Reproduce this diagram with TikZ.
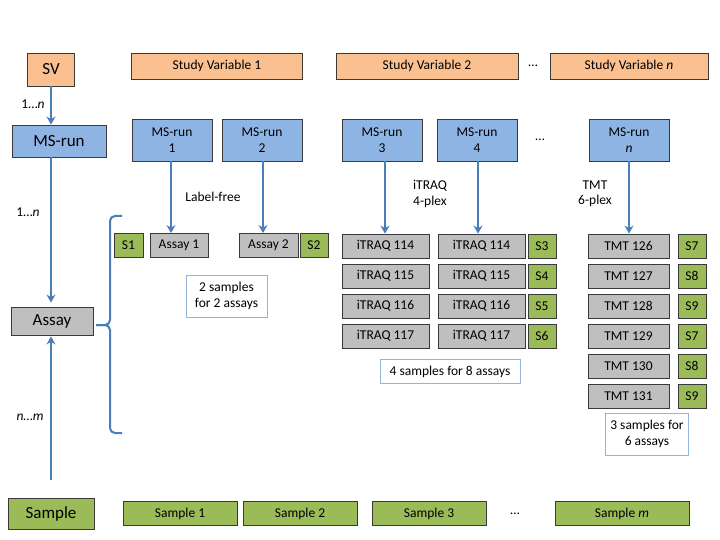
\documentclass[tikz,border=0pt]{standalone}
\usepackage{fontspec}
\setmainfont{Carlito}
\usetikzlibrary{arrows.meta}

\definecolor{svfill}{HTML}{FAC090}
\definecolor{runfill}{HTML}{8EB4E3}
\definecolor{assayfill}{HTML}{BFBFBF}
\definecolor{samplefill}{HTML}{9BBB59}
\definecolor{boxline}{HTML}{3A3A3A}
\definecolor{linkblue}{HTML}{4A7EBB}
\definecolor{noteline}{HTML}{95B3D7}

\begin{document}
\begin{tikzpicture}[x=1pt,y=-1pt,
  every node/.style={font=\fontsize{13.5}{15.5}\selectfont, inner sep=0pt},
  sz/.style 2 args={minimum width=#1pt, minimum height=#2pt},
  boxbase/.style={draw=boxline, line width=0.8pt, align=center},
  svbox/.style={boxbase, fill=svfill},
  runbox/.style={boxbase, fill=runfill},
  assaybox/.style={boxbase, fill=assayfill},
  samplebox/.style={boxbase, fill=samplefill},
  notebox/.style={draw=noteline, line width=0.9pt, fill=white, align=center},
  big/.style={font=\fontsize{17}{19}\selectfont},
  link/.style={draw=linkblue, line width=2.1pt,
    -{Stealth[length=8pt, width=9pt, inset=2.5pt]}},
  bracket/.style={draw=linkblue, line width=2pt, rounded corners=5pt},
  lbl/.style={align=center}
]
\useasboundingbox (0,0) rectangle (720,540);

% ---- left column: entity hierarchy ----
\node[svbox, big, sz={47}{33}] (svL) at (51,69.5) {SV};
\node[runbox, big, sz={94}{32}] (runL) at (59,141) {MS-run};
\node[assaybox, big, sz={82}{28}] (assayL) at (52,321) {Assay};
\node[samplebox, big, sz={86}{31}] (sampleL) at (51,513.5) {Sample};
\coordinate (spine) at (51,0);
\coordinate (sampleTail) at (51,480);

\draw[link] (svL.south) -- (spine |- runL.north);
\draw[link, shorten >=4pt] (spine |- runL.south) -- (spine |- assayL.north);
\draw[link, shorten >=1pt] (sampleTail) -- (spine |- assayL.south);

\node (c1) at (33,104) {1…\textit{n}};
\node (c2) at (28,212) {1…\textit{n}};
\node (c3) at (30,417) {\textit{n}…\textit{m}};

% bracket grouping the assay examples
\coordinate (brTop) at (122,216);
\coordinate (brBot) at (122,433);
\coordinate (brTip) at (96,325);
\draw[bracket] (brTop) -- (110,216) -- (110,325) -- (brTip);
\draw[bracket] (brBot) -- (110,433) -- (110,325) -- (brTip);

% ---- study variables ----
\node[svbox, sz={171}{26}] (sv1) at (217,66) {Study Variable 1};
\node[svbox, sz={182}{26}] (sv2) at (427,66) {Study Variable 2};
\node (svdots) at (533,66) {…};
\node[svbox, sz={158}{26}] (svn) at (629,66) {Study Variable \textit{n}};

% ---- MS runs ----
\node[runbox, sz={80}{42}] (ms1) at (172,140) {MS-run\\1};
\node[runbox, sz={80}{42}] (ms2) at (262,140) {MS-run\\2};
\node[runbox, sz={80}{42}] (ms3) at (382,140) {MS-run\\3};
\node[runbox, sz={80}{42}] (ms4) at (477,140) {MS-run\\4};
\node (msdots) at (540,140) {…};
\node[runbox, sz={80}{42}] (msn) at (629,140) {MS-run\\\textit{n}};

% ---- label-free ----
\node (lf) at (213,197) {Label-free};
\node[samplebox, sz={29}{24}] (s1) at (128.5,245.5) {S1};
\node[assaybox, sz={58}{24}] (a1) at (179,245.5) {Assay 1};
\node[assaybox, sz={59}{24}] (a2) at (268.5,245.5) {Assay 2};
\node[samplebox, sz={28}{24}] (s2) at (314,245.5) {S2};
\node[notebox, sz={81}{42}] (n1) at (226.5,296) {2 samples\\for 2 assays};

\draw[link] (ms1.south -| 171,0) -- (171,0 |- a1.north);
\draw[link] (ms2.south -| 263,0) -- (263,0 |- a2.north);

% ---- iTRAQ 4-plex ----
\node[lbl] (itl) at (430,194) {iTRAQ\\4-plex};
\foreach \r/\y/\s in {114/246/3, 115/276/4, 116/306/5, 117/336/6}{
  \node[assaybox, sz={87}{24}] (ia\r) at (385.5,\y) {iTRAQ \r};
  \node[assaybox, sz={87}{24}] (ib\r) at (481.5,\y) {iTRAQ \r};
  \node[samplebox, sz={28}{24}] (si\s) at (542,\y) {S\s};
}
\node[notebox, sz={140}{24}] (n2) at (450,371.5) {4 samples for 8 assays};

\draw[link] (ms3.south -| 385,0) -- (385,0 |- ia114.north);
\draw[link] (ms4.south -| 478,0) -- (478,0 |- ib114.north);

% ---- TMT 6-plex ----
\node[lbl] (tl) at (595,194) {TMT\\6-plex};
\foreach \r/\y/\s in {126/246/7, 127/276/8, 128/306/9, 129/336/7, 130/366/8, 131/396/9}{
  \node[assaybox, sz={81}{24}] (t\r) at (628.5,\y) {TMT \r};
  \node[samplebox, sz={28}{24}] (st\r) at (692,\y) {S\s};
}
\node[notebox, sz={83}{42}] (n3) at (647,434) {3 samples for\\6 assays};

\draw[link] (msn.south -| 629,0) -- (629,0 |- t126.north);

% ---- sample row ----
\node[samplebox, sz={114}{24}] (smp1) at (180,513.5) {Sample 1};
\node[samplebox, sz={114}{24}] (smp2) at (300,513.5) {Sample 2};
\node[samplebox, sz={114}{24}] (smp3) at (429,513.5) {Sample 3};
\node (smpdots) at (515,513.5) {…};
\node[samplebox, sz={134}{24}] (smpm) at (622,513.5) {Sample \textit{m}};
\end{tikzpicture}
\end{document}
